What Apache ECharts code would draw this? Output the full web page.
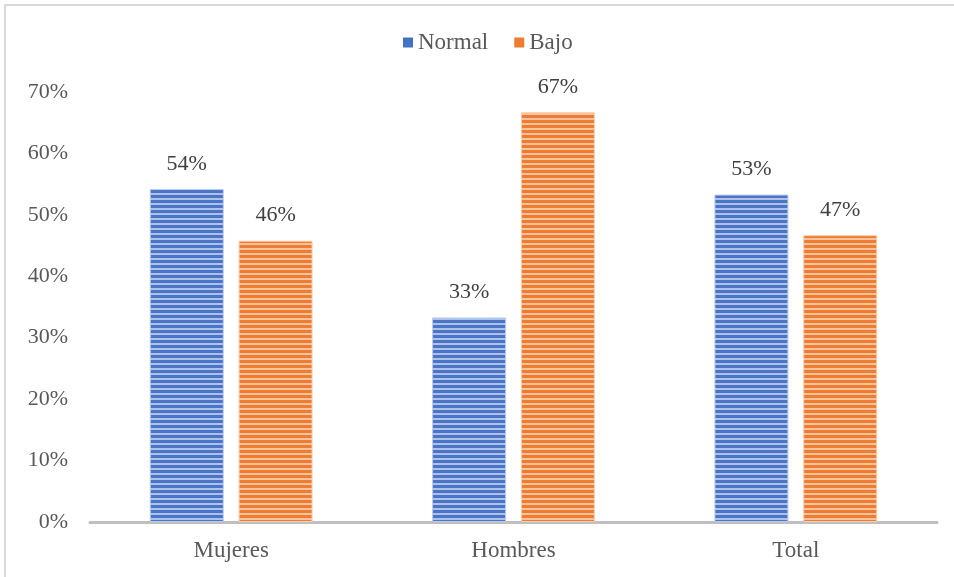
<!DOCTYPE html>
<html>
<head>
<meta charset="utf-8">
<script src="https://cdn.jsdelivr.net/npm/echarts@6/dist/echarts.min.js"></script>
<style>
  html, body { margin: 0; padding: 0; background: #fff; }
  #chart { width: 954px; height: 577px; }
</style>
</head>
<body>
<div id="chart"></div>
<script>
  // datos
  const categories = ['Mujeres', 'Hombres', 'Total']
  const normalValues = [54.2, 33.3, 53.3]
  const bajoValues = [45.8, 66.7, 46.7]
  const yTicks = [0, 10, 20, 30, 40, 50, 60, 70]

  // patron de rayas horizontales
  function stripes (dark, light) {
    const c = document.createElement('canvas')
    c.width = 8
    c.height = 5
    const ctx = c.getContext('2d')
    ctx.fillStyle = dark
    ctx.fillRect(0, 0, 8, 5)
    ctx.fillStyle = light
    ctx.fillRect(0, 3, 8, 2)
    return { image: c, repeat: 'repeat' }
  }

  const font = 'Liberation Serif'
  const chart = echarts.init(document.getElementById('chart'))

  const label = {
    show: true,
    position: 'top',
    distance: 14,
    fontFamily: font,
    fontSize: 22,
    color: '#404040',
    formatter: (p) => Math.round(p.value) + '%'
  }

  chart.setOption({
    animation: false,
    graphic: [{
      type: 'rect',
      shape: { x: 5, y: 5, width: 970, height: 600 },
      style: { fill: 'none', stroke: '#d9d9d9', lineWidth: 2 }
    }],
    legend: {
      top: 26,
      left: 398,
      icon: 'rect',
      itemWidth: 10,
      itemHeight: 10,
      itemGap: 26,
      itemStyle: { borderWidth: 0 },
      textStyle: { fontFamily: font, fontSize: 23, color: '#595959' },
      data: [
        { name: 'Normal', itemStyle: { color: '#4472c4', borderWidth: 0 } },
        { name: 'Bajo', itemStyle: { color: '#ed7d31', borderWidth: 0 } }
      ]
    },
    grid: { left: 90, right: 17, top: 92, bottom: 55 },
    xAxis: {
      type: 'category',
      data: categories,
      axisLine: { lineStyle: { color: '#bfbfbf', width: 3 } },
      axisTick: { show: false },
      axisLabel: { fontFamily: font, fontSize: 23, color: '#595959', margin: 17 }
    },
    yAxis: {
      type: 'value',
      min: yTicks[0],
      max: yTicks[yTicks.length - 1],
      interval: 10,
      splitLine: { show: false },
      axisLine: { show: false },
      axisLabel: {
        fontFamily: font, fontSize: 22, color: '#595959', margin: 22,
        formatter: (v) => v + '%'
      }
    },
    series: [
      {
        name: 'Normal',
        type: 'bar',
        data: normalValues,
        barWidth: 74,
        barGap: '20%',
        itemStyle: {
          color: stripes('#4a74c6', '#aec2e9'),
          borderColor: '#b9cbee',
          borderWidth: 1
        },
        label
      },
      {
        name: 'Bajo',
        type: 'bar',
        data: bajoValues,
        barWidth: 74,
        itemStyle: {
          color: stripes('#ee7d33', '#f7c39d'),
          borderColor: '#f8cfb1',
          borderWidth: 1
        },
        label
      }
    ]
  })
</script>
</body>
</html>
